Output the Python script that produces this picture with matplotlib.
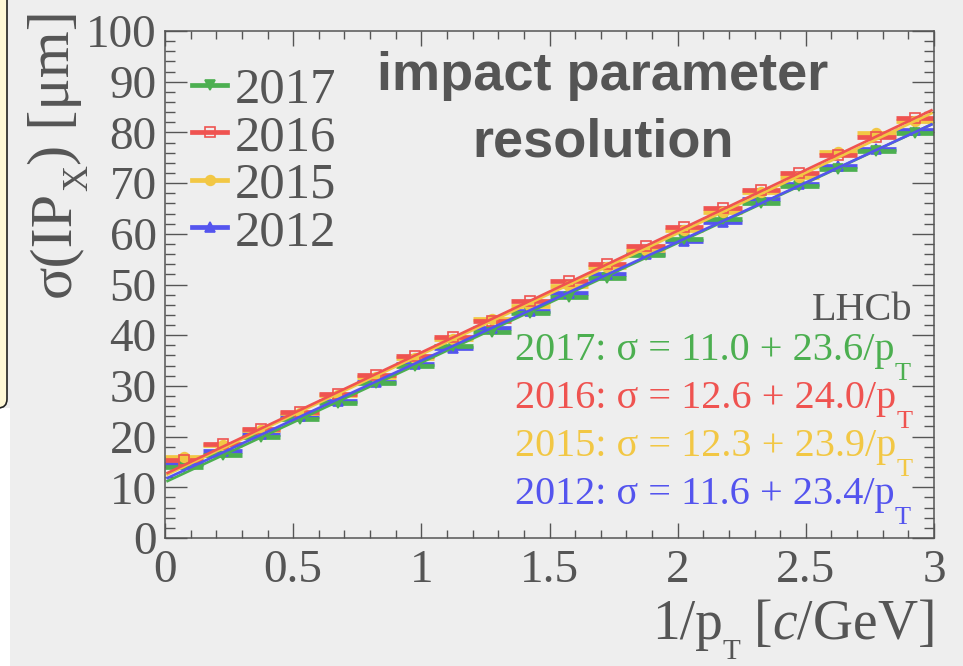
import numpy as np
import matplotlib
matplotlib.use("Agg")
import matplotlib.pyplot as plt
from matplotlib.lines import Line2D
from matplotlib.patches import FancyBboxPatch, Rectangle
from matplotlib.ticker import MultipleLocator, FuncFormatter

plt.rcParams["font.family"] = "Liberation Serif"
plt.rcParams["mathtext.fontset"] = "custom"
plt.rcParams["mathtext.rm"] = "Liberation Serif"
plt.rcParams["mathtext.it"] = "Liberation Serif:italic"

# 1/pT bin centres [c/GeV], bin half width 0.075
inv_pt = [0.075, 0.225, 0.375, 0.525, 0.675, 0.825, 0.975, 1.125, 1.275, 1.425,
          1.575, 1.725, 1.875, 2.025, 2.175, 2.325, 2.475, 2.625, 2.775, 2.925]
half_width = 0.075

# measured IP_X resolution per bin [um]
sigma_2017 = [14.0, 16.3, 19.9, 23.4, 26.6, 30.5, 34.0, 37.9, 40.7, 44.3,
              47.6, 51.3, 55.8, 59.0, 63.0, 66.1, 69.4, 72.8, 76.4, 79.9]
sigma_2016 = [15.3, 18.5, 21.5, 24.9, 28.5, 32.1, 35.9, 39.6, 42.8, 46.7,
              50.6, 54.1, 57.6, 61.3, 65.1, 68.6, 72.0, 75.6, 79.0, 82.8]
sigma_2015 = [16.0, 18.3, 21.3, 24.6, 28.2, 31.8, 35.6, 39.3, 43.1, 45.8,
              49.8, 53.4, 56.9, 60.7, 64.3, 68.2, 71.3, 76.2, 79.9, 82.2]
sigma_2012 = [14.6, 17.2, 20.5, 24.1, 27.0, 30.8, 34.3, 37.4, 41.5, 44.8,
              48.4, 52.0, 56.1, 58.5, 62.3, 66.9, 69.8, 73.3, 76.8, 80.5]

years = ["2017", "2016", "2015", "2012"]
fit_offset = [11.0, 12.6, 12.3, 11.6]
fit_slope = [23.6, 24.0, 23.9, 23.4]

colors = {"2017": "#4caf50", "2016": "#ef5350", "2015": "#f2c744", "2012": "#5454ee"}
markers = {"2017": "v", "2016": "s", "2015": "o", "2012": "^"}
data = {"2017": sigma_2017, "2016": sigma_2016, "2015": sigma_2015, "2012": sigma_2012}

grey = "#555555"
bg = "#eeeeee"

fig = plt.figure(figsize=(9.63, 6.66), dpi=100, facecolor=bg)
ax = fig.add_axes([165 / 963, 1 - 538 / 666, 769 / 963, 507 / 666])
ax.set_facecolor(bg)

# note box peeking in from the left edge
fig.add_artist(Rectangle((0, 0), 10, 258, transform=None, facecolor="white",
                         edgecolor="none"))
fig.add_artist(FancyBboxPatch((-40, 258), 47, 460, transform=None,
                              boxstyle="round,pad=0,rounding_size=9",
                              facecolor="#fff8d6", edgecolor="#222222", lw=1.2))

# data points with horizontal bin-width bars
for yr in ["2012", "2017", "2015", "2016"]:
    c = colors[yr]
    ax.errorbar(inv_pt, data[yr], xerr=half_width, fmt=markers[yr], color=c,
                ms=7, elinewidth=3.4, capsize=0,
                mfc="none" if yr == "2016" else c, mew=1.2, zorder=2)

# linear fits sigma = a + b/pT
xs = np.array([0.01, 2.99])
for yr in ["2017", "2012", "2015", "2016"]:
    i = years.index(yr)
    ax.plot(xs, fit_offset[i] + fit_slope[i] * xs, color=colors[yr], lw=1.9,
            zorder=3)

ax.set_xlim(0, 3)
ax.set_ylim(0, 100)
ax.xaxis.set_major_locator(MultipleLocator(0.5))
ax.xaxis.set_minor_locator(MultipleLocator(0.1))
ax.yaxis.set_major_locator(MultipleLocator(10))
ax.yaxis.set_minor_locator(MultipleLocator(2))
fmt = FuncFormatter(lambda v, p: f"{v:g}")
ax.xaxis.set_major_formatter(fmt)
ax.yaxis.set_major_formatter(fmt)

ax.tick_params(which="both", direction="in", top=True, right=True,
               color=grey, labelcolor=grey, width=1.0, labelsize=34)
ax.tick_params(axis="y", which="major", length=16, pad=6)
ax.tick_params(axis="y", which="minor", length=7.5)
ax.tick_params(axis="x", which="major", length=11, pad=8)
ax.tick_params(axis="x", which="minor", length=5.5)
for s in ax.spines.values():
    s.set_color(grey)
    s.set_linewidth(1.1)

# axis titles, ROOT-style low subscripts built from chained pieces
xl3 = fig.text(934 / 963, 27 / 666, r" [$c$/GeV]", ha="right", va="baseline",
               fontsize=40, color=grey)
xl2 = ax.annotate("T", xy=(0, 27), xycoords=(xl3, "figure pixels"),
                  ha="right", va="top", fontsize=21, color=grey)
ax.annotate("1/p", xy=(0, 27), xycoords=(xl2, "figure pixels"),
            ha="right", va="baseline", fontsize=40, color=grey)

rot = dict(rotation=90, rotation_mode="anchor", ha="right", va="baseline",
           color=grey)
yl3 = fig.text(69 / 963, 656 / 666, ") [μm]", fontsize=43.5, **rot)
yl2 = ax.annotate("X", xy=(87, 0), xycoords=("figure pixels", yl3),
                  fontsize=26, **rot)
ax.annotate("σ(IP", xy=(69, 0), xycoords=("figure pixels", yl2),
            fontsize=43.5, **rot)

# legend
handles = [Line2D([], [], color=colors[yr], marker=markers[yr], lw=3.4, ms=7,
                  mfc="none" if yr == "2016" else colors[yr], mew=1.2)
           for yr in years]
ax.legend(handles, years, loc="upper left", bbox_to_anchor=(0.035, 0.929),
          frameon=False, fontsize=36.5, handlelength=0.7, handletextpad=0.15,
          labelspacing=0.02, borderpad=0, borderaxespad=0, labelcolor=grey)

ax.text(0.5696, 0.8836, "impact parameter", transform=ax.transAxes,
        ha="center", va="baseline", fontsize=39, fontweight="bold",
        family="Liberation Sans", color=grey)
ax.text(0.5696, 0.7515, "resolution", transform=ax.transAxes,
        ha="center", va="baseline", fontsize=39, fontweight="bold",
        family="Liberation Sans", color=grey)

ax.text(0.9714, 0.430, "LHCb", transform=ax.transAxes, ha="right",
        va="baseline", fontsize=29, color=grey)

# fit results, one line per year
for i, yr in enumerate(years):
    base = 306 - i * 48
    t = fig.text(515 / 963, base / 666,
                 f"{yr}: σ = {fit_offset[i]:.1f} + {fit_slope[i]:.1f}/p",
                 ha="left", va="baseline", fontsize=29, color=colors[yr])
    ax.annotate("T", xy=(1, base - 3), xycoords=(t, "figure pixels"),
                ha="left", va="top", fontsize=19, color=colors[yr])

fig.savefig("out.png", dpi=100, facecolor=bg)
